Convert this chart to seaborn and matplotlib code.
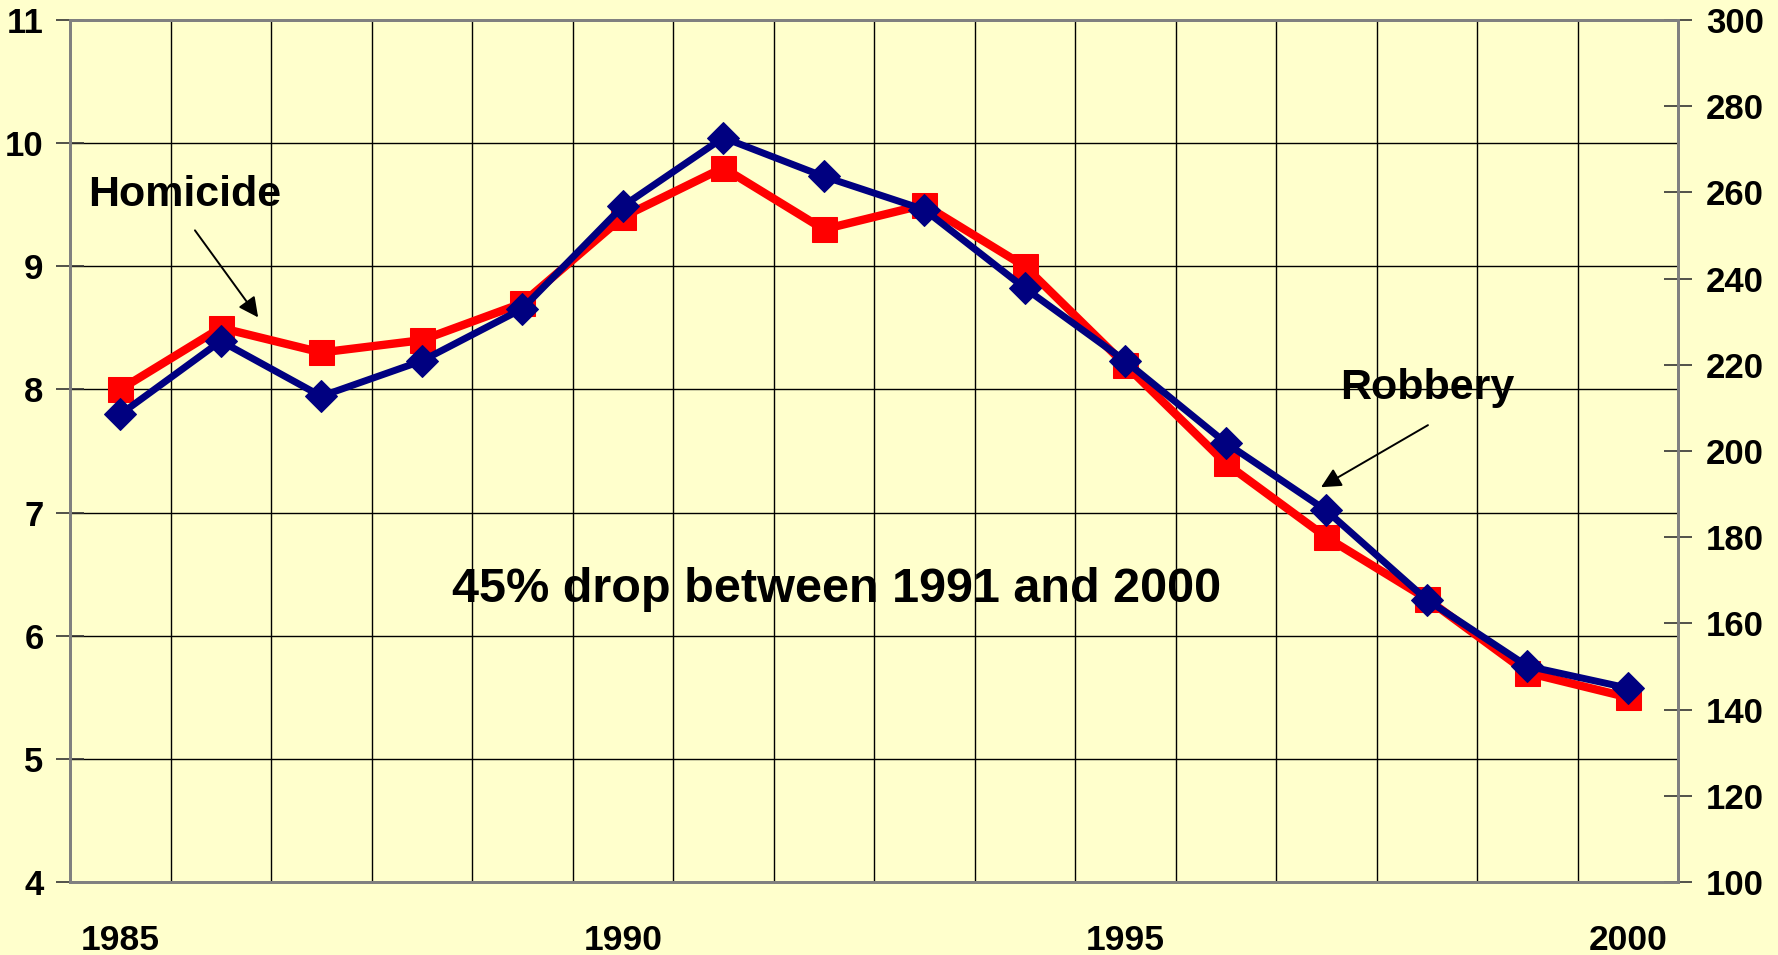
import numpy as np
import pandas as pd
import matplotlib
matplotlib.use('Agg')
import matplotlib.pyplot as plt
import seaborn as sns

years = [1985, 1986, 1987, 1988, 1989, 1990, 1991, 1992,
         1993, 1994, 1995, 1996, 1997, 1998, 1999, 2000]
homicide = [8.0, 8.5, 8.3, 8.4, 8.7, 9.4, 9.8, 9.3,
            9.5, 9.0, 8.2, 7.4, 6.8, 6.3, 5.7, 5.5]
robbery = [208.5, 225.5, 212.7, 220.9, 233.0, 256.8, 272.7, 263.7,
           256.0, 237.8, 220.9, 201.9, 186.2, 165.5, 150.1, 145.0]
year_labels = ['1985', '1990', '1995', '2000']
left_ticks = [4, 5, 6, 7, 8, 9, 10, 11]
right_ticks = [100, 120, 140, 160, 180, 200, 220, 240, 260, 280, 300]

bg = '#FFFFCC'
sns.set_style('white')
plt.rcParams['font.family'] = ['Liberation Sans', 'DejaVu Sans']
plt.rcParams['font.weight'] = 'bold'
plt.rcParams['text.color'] = 'black'
plt.rcParams['xtick.color'] = 'black'
plt.rcParams['ytick.color'] = 'black'

df = pd.DataFrame({'pos': np.arange(len(years)), 'year': years,
                   'homicide': homicide, 'robbery': robbery})

fig = plt.figure(figsize=(17.78, 9.55), dpi=100, facecolor=bg)
ax = fig.add_axes([70 / 1778, 1 - 882 / 955, 1608 / 1778, 862 / 955])
ax.set_facecolor(bg)

sns.lineplot(data=df, x='pos', y='homicide', ax=ax, color='#FF0000',
             marker='s', markersize=18, markeredgecolor='#FF0000',
             linewidth=6, legend=False)

ax2 = ax.twinx()
sns.lineplot(data=df, x='pos', y='robbery', ax=ax2, color='#000080',
             marker='D', markersize=16, markeredgecolor='#000080',
             linewidth=5, legend=False)

n = len(years)
ax.set_xlim(-0.5, n - 0.5)
ax.set_ylim(4, 11)
ax2.set_ylim(100, 300)

# gridlines on the category boundaries, labels in the middle
ax.set_xticks(np.arange(-0.5, n, 1.0))
ax.set_xticklabels([])
label_pos = [years.index(int(y)) for y in year_labels]
ax.set_xticks(label_pos, minor=True)
ax.set_xticklabels(year_labels, minor=True)
ax.tick_params(axis='x', which='minor', length=0, pad=30, labelsize=25.5,
               labelcolor='black')
ax.tick_params(axis='x', which='major', direction='inout', length=16,
               width=1.2, color='#333333')

ax.set_yticks(left_ticks)
ax.set_yticklabels([str(t) for t in left_ticks])
ax.tick_params(axis='y', direction='inout', length=20, width=1.2,
               color='#333333', labelsize=25, pad=9, labelcolor='black')
ax2.set_yticks(right_ticks)
ax2.set_yticklabels([str(t) for t in right_ticks])
ax2.tick_params(axis='y', direction='inout', length=20, width=1.2,
                color='#333333', labelsize=25, pad=10, labelcolor='black')

ax.grid(True, which='major', color='black', linewidth=1.0)
ax.set_axisbelow(True)
ax2.grid(False)
ax.set_xlabel('')
ax.set_ylabel('')
ax2.set_ylabel('')

for a in (ax, ax2):
    for s in a.spines.values():
        s.set_color('#808080')
        s.set_linewidth(2)

arrow = dict(arrowstyle='-|>', color='black', lw=1.4,
             mutation_scale=30, shrinkA=0, shrinkB=0)
ax.text(0.0715, 0.797, 'Homicide', transform=ax.transAxes,
        ha='center', va='center', fontsize=31, fontweight='bold')
ax.annotate('', xy=(0.117, 0.655), xytext=(0.0777, 0.756),
            xycoords='axes fraction', textcoords='axes fraction',
            arrowprops=arrow)
ax.text(0.844, 0.573, 'Robbery', transform=ax.transAxes,
        ha='center', va='center', fontsize=31, fontweight='bold')
ax.annotate('', xy=(0.778, 0.458), xytext=(0.8445, 0.530),
            xycoords='axes fraction', textcoords='axes fraction',
            arrowprops=arrow)
ax.text(0.477, 0.339, '45% drop between 1991 and 2000', transform=ax.transAxes,
        ha='center', va='center', fontsize=35, fontweight='bold')

fig.savefig('out.png', dpi=100, facecolor=bg)
